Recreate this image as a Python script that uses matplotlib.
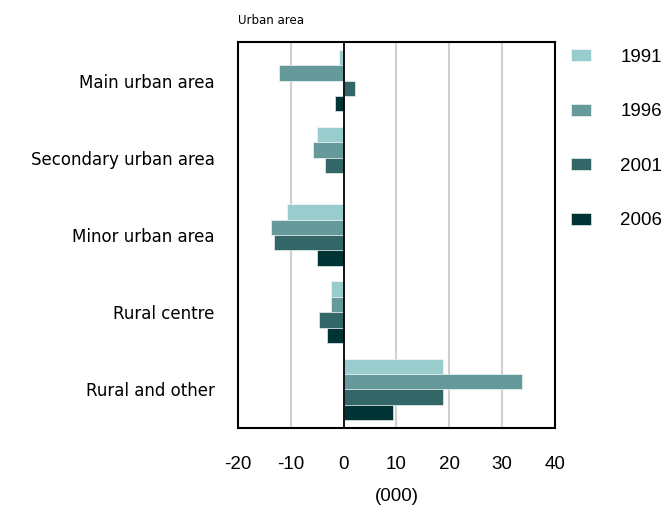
import numpy as np
import matplotlib.pyplot as plt
from matplotlib.patches import Patch

# Population change by urban area type, thousands
categories = ["Main urban area", "Secondary urban area", "Minor urban area",
              "Rural centre", "Rural and other"]
years = ["1991", "1996", "2001", "2006"]
v1991 = [-0.9, -5.1, -10.7, -2.4, 18.8]
v1996 = [-12.3, -5.8, -13.8, -2.4, 33.7]
v2001 = [2.1, -3.5, -13.1, -4.7, 18.8]
v2006 = [-1.6, 0.0, -5.0, -3.1, 9.3]
series = [v1991, v1996, v2001, v2006]
colors = ["#99cccc", "#669999", "#336666", "#003333"]
xticks = [-20, -10, 0, 10, 20, 30, 40]

fig = plt.figure(figsize=(6.68, 5.07), dpi=100)
ax = fig.add_axes([238 / 668, 1 - 428 / 507, (555 - 238) / 668, (428 - 42) / 507])

y = np.arange(len(categories))
bh = 0.2
offsets = [-0.3, -0.1, 0.1, 0.3]
for vals, off, col in zip(series, offsets, colors):
    ax.barh(y + off, vals, height=bh, color=col, edgecolor="white", linewidth=0.4, zorder=3)

ax.set_xlim(-20, 40)
ax.set_ylim(4.5, -0.5)
ax.set_xticks(xticks)
ax.set_xticklabels([str(t) for t in xticks], fontfamily="Liberation Sans", fontsize=13.5)
ax.set_yticks(y)
ax.set_yticklabels(categories, fontfamily="DejaVu Sans", fontsize=12)
ax.tick_params(axis="x", length=0, pad=20)
ax.tick_params(axis="y", length=0, pad=17)

for t in xticks:
    if t != 0:
        ax.axvline(t, color="#d0d0d0", linewidth=1.5, zorder=1)
ax.axvline(0, color="black", linewidth=1.3, zorder=4)
for s in ax.spines.values():
    s.set_linewidth(1.5)
    s.set_color("black")

ax.set_xlabel("(000)", fontfamily="Liberation Sans", fontsize=13.5, labelpad=11)
fig.text(238 / 668, 1 - 20 / 507, "Urban area", fontfamily="DejaVu Sans", fontsize=8.5, va="center", ha="left")

handles = [Patch(facecolor=c, edgecolor="white", linewidth=0.4) for c in colors]
ax.legend(handles, years, loc="upper left", bbox_to_anchor=(1.01, 1.016), frameon=False,
          prop={"family": "Liberation Sans", "size": 13.5}, labelspacing=2.0,
          handlelength=1.07, handleheight=0.59, handletextpad=1.55, borderaxespad=0.3)

fig.savefig("out.png", dpi=100)
